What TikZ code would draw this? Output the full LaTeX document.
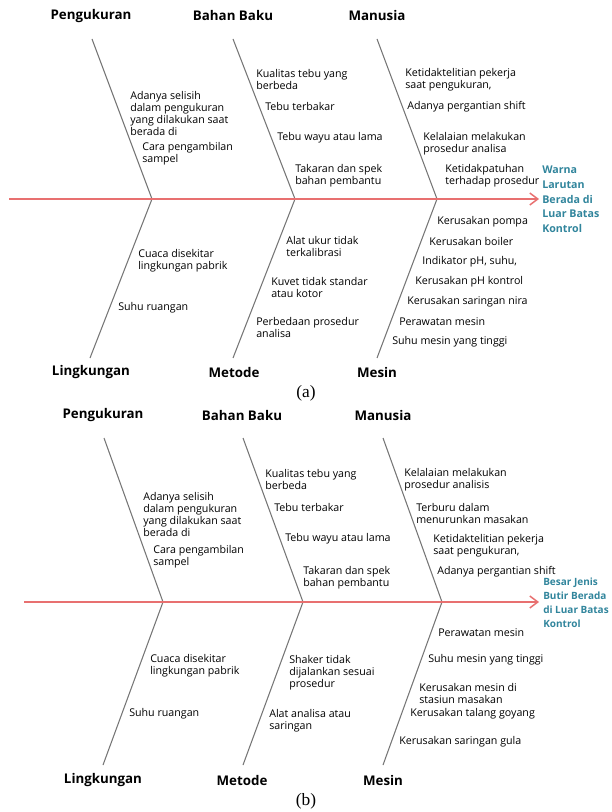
\documentclass[tikz,border=0pt]{standalone}
\usepackage{fontspec}
\setmainfont{Open Sans}
\newfontfamily\capfont{Liberation Serif}
\usepackage{xcolor}
\usetikzlibrary{arrows.meta}
\definecolor{spinered}{RGB}{232,112,112}
\definecolor{bonegray}{RGB}{118,118,118}
\definecolor{headteal}{RGB}{49,133,156}
\tikzstyle{bone} = [draw=bonegray, line width=0.8pt]
\tikzstyle{spine} = [draw=spinered, line width=1.1pt, -{Straight Barb[length=6pt,width=9pt]}]
\tikzstyle{cat} = [inner sep=0pt, font=\fontsize{10}{12}\selectfont\bfseries]
\tikzstyle{cause} = [anchor=west, align=left, inner sep=0pt, font=\fontsize{8}{9}\selectfont]
\tikzstyle{head} = [anchor=west, align=left, inner sep=0pt, text=headteal, font=\fontsize{8}{11}\selectfont\bfseries]
\tikzstyle{caption} = [inner sep=0pt, font=\capfont\fontsize{13}{15}\selectfont]

\begin{document}
\begin{tikzpicture}[x=0.75pt, y=-0.75pt]
\useasboundingbox (0,0) rectangle (611,812);

% ---------------- (a) ----------------
\coordinate (sa-start) at (9,199);
\coordinate (sa-end) at (539,199);
\coordinate (pa-top) at (92,39);
\coordinate (pa-end) at (152,199);
\coordinate (ba-top) at (233,39);
\coordinate (ba-end) at (295,199);
\coordinate (ma-top) at (377,39);
\coordinate (ma-end) at (437,199);
\coordinate (la-bot) at (90,358);
\coordinate (mea-bot) at (233,358);
\coordinate (msa-bot) at (377,358);

\draw[bone] (pa-top) -- (pa-end) -- (la-bot);
\draw[bone] (ba-top) -- (ba-end) -- (mea-bot);
\draw[bone] (ma-top) -- (ma-end) -- (msa-bot);
\draw[spine] (sa-start) -- (sa-end);

\node[cat] (pengukuran-a) at (91,16) {Pengukuran};
\node[cat] (bahan-a) at (233,16) {Bahan Baku};
\node[cat] (manusia-a) at (377,16) {Manusia};
\node[cat] (lingkungan-a) at (91,372) {Lingkungan};
\node[cat] (metode-a) at (234,372) {Metode};
\node[cat] (mesin-a) at (377,372) {Mesin};

\node[head] (effect-a) at (542,199.5) {Warna\\Larutan\\Berada di\\Luar Batas\\Kontrol};

\node[cause] (pa1) at (130,114) {Adanya selisih\\dalam pengukuran\\yang dilakukan saat\\berada di};
\node[cause] (pa2) at (142,154) {Cara pengambilan\\sampel};

\node[cause] (ba1) at (256,79.5) {Kualitas tebu yang\\berbeda};
\node[cause] (ba2) at (265,107) {Tebu terbakar};
\node[cause] (ba3) at (277,138) {Tebu wayu atau lama};
\node[cause] (ba4) at (295,176) {Takaran dan spek\\bahan pembantu};

\node[cause] (ma1) at (405,80) {Ketidaktelitian pekerja\\saat pengukuran,};
\node[cause] (ma2) at (407,107) {Adanya pergantian shift};
\node[cause] (ma3) at (423,144) {Kelalaian melakukan\\prosedur analisa};
\node[cause] (ma4) at (445,176) {Ketidakpatuhan\\terhadap prosedur};

\node[cause] (la1) at (138,261) {Cuaca disekitar\\lingkungan pabrik};
\node[cause] (la2) at (118,308) {Suhu ruangan};

\node[cause] (mea1) at (286,247) {Alat ukur tidak\\terkalibrasi};
\node[cause] (mea2) at (271,287.5) {Kuvet tidak standar\\atau kotor};
\node[cause] (mea3) at (256,327.5) {Perbedaan prosedur\\analisa};

\node[cause] (msa1) at (437,222) {Kerusakan pompa};
\node[cause] (msa2) at (429,242) {Kerusakan boiler};
\node[cause] (msa3) at (422,262) {Indikator pH, suhu,};
\node[cause] (msa4) at (415,282) {Kerusakan pH kontrol};
\node[cause] (msa5) at (407,302) {Kerusakan saringan nira};
\node[cause] (msa6) at (399,322) {Perawatan mesin};
\node[cause] (msa7) at (392,342) {Suhu mesin yang tinggi};

\node[caption] (cap-a) at (306,393) {(a)};

% ---------------- (b) ----------------
\coordinate (sb-start) at (24,602);
\coordinate (sb-end) at (539,602);
\coordinate (pb-top) at (104,438);
\coordinate (pb-end) at (163,602);
\coordinate (bb-top) at (243,438);
\coordinate (bb-end) at (303,602);
\coordinate (mb-top) at (383,438);
\coordinate (mb-end) at (442,602);
\coordinate (lb-bot) at (103,765);
\coordinate (meb-bot) at (243,765);
\coordinate (msb-bot) at (383,765);

\draw[bone] (pb-top) -- (pb-end) -- (lb-bot);
\draw[bone] (bb-top) -- (bb-end) -- (meb-bot);
\draw[bone] (mb-top) -- (mb-end) -- (msb-bot);
\draw[spine] (sb-start) -- (sb-end);

\node[cat] (pengukuran-b) at (103,415) {Pengukuran};
\node[cat] (bahan-b) at (242,415) {Bahan Baku};
\node[cat] (manusia-b) at (383,415) {Manusia};
\node[cat] (lingkungan-b) at (103,780) {Lingkungan};
\node[cat] (metode-b) at (242,780) {Metode};
\node[cat] (mesin-b) at (383,780) {Mesin};

\node[head, font=\fontsize{7.5}{10.5}\selectfont\bfseries] (effect-b) at (543,603) {Besar Jenis\\Butir Berada\\di Luar Batas\\Kontrol};

\node[cause] (pb1) at (143,514) {Adanya selisih\\dalam pengukuran\\yang dilakukan saat\\berada di};
\node[cause] (pb2) at (153,556.5) {Cara pengambilan\\sampel};

\node[cause] (bb1) at (265,479) {Kualitas tebu yang\\berbeda};
\node[cause] (bb2) at (274,507) {Tebu terbakar};
\node[cause] (bb3) at (285,539) {Tebu wayu atau lama};
\node[cause] (bb4) at (303,578) {Takaran dan spek\\bahan pembantu};

\node[cause] (mb1) at (404,479.5) {Kelalaian melakukan\\prosedur analisis};
\node[cause] (mb2) at (416,513) {Terburu dalam\\menurunkan masakan};
\node[cause] (mb3) at (433,545.5) {Ketidaktelitian pekerja\\saat pengukuran,};
\node[cause] (mb4) at (437,572) {Adanya pergantian shift};

\node[cause] (lb1) at (150,666) {Cuaca disekitar\\lingkungan pabrik};
\node[cause] (lb2) at (129,714) {Suhu ruangan};

\node[cause] (meb1) at (289,672.5) {Shaker tidak\\dijalankan sesuai\\prosedur};
\node[cause] (meb2) at (269,721) {Alat analisa atau\\saringan};

\node[cause] (msb1) at (438,633) {Perawatan mesin};
\node[cause] (msb2) at (428,660) {Suhu mesin yang tinggi};
\node[cause] (msb3) at (419,693) {Kerusakan mesin di\\stasiun masakan};
\node[cause] (msb4) at (410,714) {Kerusakan talang goyang};
\node[cause] (msb5) at (399,742) {Kerusakan saringan gula};

\node[caption] (cap-b) at (306,801) {(b)};
\end{tikzpicture}
\end{document}
